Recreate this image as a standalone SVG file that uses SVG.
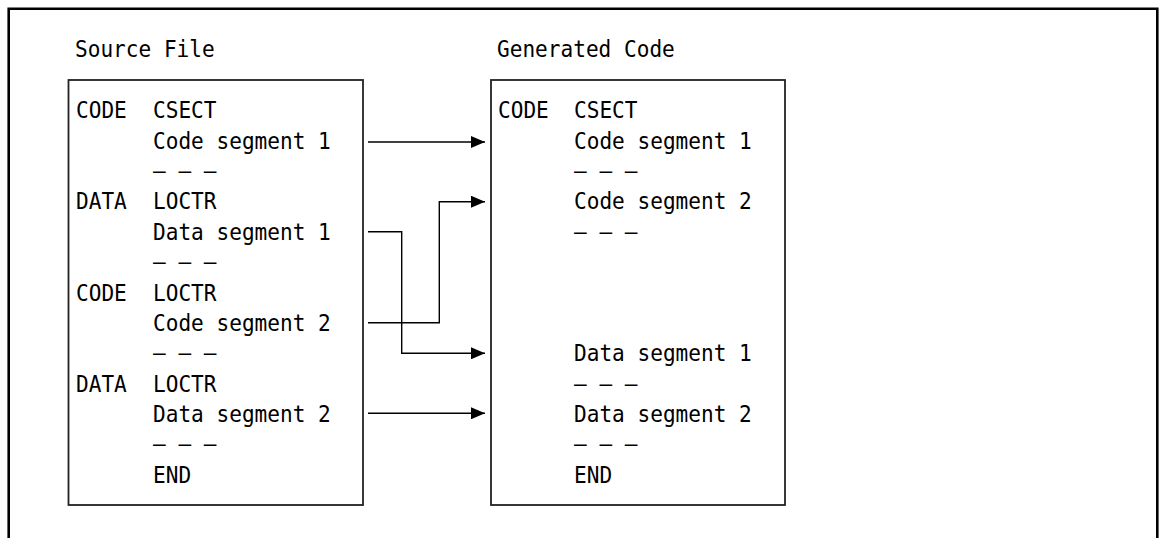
<svg xmlns="http://www.w3.org/2000/svg" width="1159" height="538" viewBox="0 0 1159 538">
<style>
text{font-family:"DejaVu Sans Mono","Liberation Mono",monospace;font-size:23px;fill:#000}
.box{fill:none;stroke:#222;stroke-width:1.8}
.frame{fill:none;stroke:#000;stroke-width:2.6}
.conn{fill:none;stroke:#000;stroke-width:1.4}
</style>
<defs>
<marker id="ah" markerWidth="14" markerHeight="12" refX="14" refY="6" orient="auto" markerUnits="userSpaceOnUse">
<path d="M0,0 L14,6 L0,12 Z" fill="#000"/>
</marker>
</defs>
<path class="frame" d="M8.7,540 V8.7 H1157.3 V540"/>
<g id="source">
<text x="75" y="57" textLength="139.7" lengthAdjust="spacingAndGlyphs">Source File</text>
<rect class="box" x="68.5" y="80" width="294.5" height="425"/>
<text x="76" y="118.3" textLength="50.8" lengthAdjust="spacingAndGlyphs">CODE</text><text x="153" y="118.3" textLength="63.5" lengthAdjust="spacingAndGlyphs">CSECT</text>
<text x="153" y="148.7" textLength="177.8" lengthAdjust="spacingAndGlyphs">Code segment 1</text>
<text x="153" y="179" textLength="63.5" lengthAdjust="spacingAndGlyphs">— — —</text>
<text x="76" y="209.4" textLength="50.8" lengthAdjust="spacingAndGlyphs">DATA</text><text x="153" y="209.4" textLength="63.5" lengthAdjust="spacingAndGlyphs">LOCTR</text>
<text x="153" y="239.8" textLength="177.8" lengthAdjust="spacingAndGlyphs">Data segment 1</text>
<text x="153" y="270.2" textLength="63.5" lengthAdjust="spacingAndGlyphs">— — —</text>
<text x="76" y="300.5" textLength="50.8" lengthAdjust="spacingAndGlyphs">CODE</text><text x="153" y="300.5" textLength="63.5" lengthAdjust="spacingAndGlyphs">LOCTR</text>
<text x="153" y="330.9" textLength="177.8" lengthAdjust="spacingAndGlyphs">Code segment 2</text>
<text x="153" y="361.3" textLength="63.5" lengthAdjust="spacingAndGlyphs">— — —</text>
<text x="76" y="391.6" textLength="50.8" lengthAdjust="spacingAndGlyphs">DATA</text><text x="153" y="391.6" textLength="63.5" lengthAdjust="spacingAndGlyphs">LOCTR</text>
<text x="153" y="422" textLength="177.8" lengthAdjust="spacingAndGlyphs">Data segment 2</text>
<text x="153" y="452.4" textLength="63.5" lengthAdjust="spacingAndGlyphs">— — —</text>
<text x="153" y="482.7" textLength="38.1" lengthAdjust="spacingAndGlyphs">END</text>
</g>
<g id="generated">
<text x="497" y="57" textLength="177.8" lengthAdjust="spacingAndGlyphs">Generated Code</text>
<rect class="box" x="491" y="80" width="294" height="425"/>
<text x="498" y="118.3" textLength="50.8" lengthAdjust="spacingAndGlyphs">CODE</text><text x="574" y="118.3" textLength="63.5" lengthAdjust="spacingAndGlyphs">CSECT</text>
<text x="574" y="148.7" textLength="177.8" lengthAdjust="spacingAndGlyphs">Code segment 1</text>
<text x="574" y="179" textLength="63.5" lengthAdjust="spacingAndGlyphs">— — —</text>
<text x="574" y="209.4" textLength="177.8" lengthAdjust="spacingAndGlyphs">Code segment 2</text>
<text x="574" y="239.8" textLength="63.5" lengthAdjust="spacingAndGlyphs">— — —</text>
<text x="574" y="361.3" textLength="177.8" lengthAdjust="spacingAndGlyphs">Data segment 1</text>
<text x="574" y="391.6" textLength="63.5" lengthAdjust="spacingAndGlyphs">— — —</text>
<text x="574" y="422" textLength="177.8" lengthAdjust="spacingAndGlyphs">Data segment 2</text>
<text x="574" y="452.4" textLength="63.5" lengthAdjust="spacingAndGlyphs">— — —</text>
<text x="574" y="482.7" textLength="38.1" lengthAdjust="spacingAndGlyphs">END</text>
</g>
<g id="connectors">
<path class="conn" d="M368,142 H485" marker-end="url(#ah)"/>
<path class="conn" d="M368,231.7 H401.7 V353.3 H485" marker-end="url(#ah)"/>
<path class="conn" d="M368,322.7 H439.3 V201.7 H485" marker-end="url(#ah)"/>
<path class="conn" d="M368,413.3 H485" marker-end="url(#ah)"/>
</g>
</svg>
